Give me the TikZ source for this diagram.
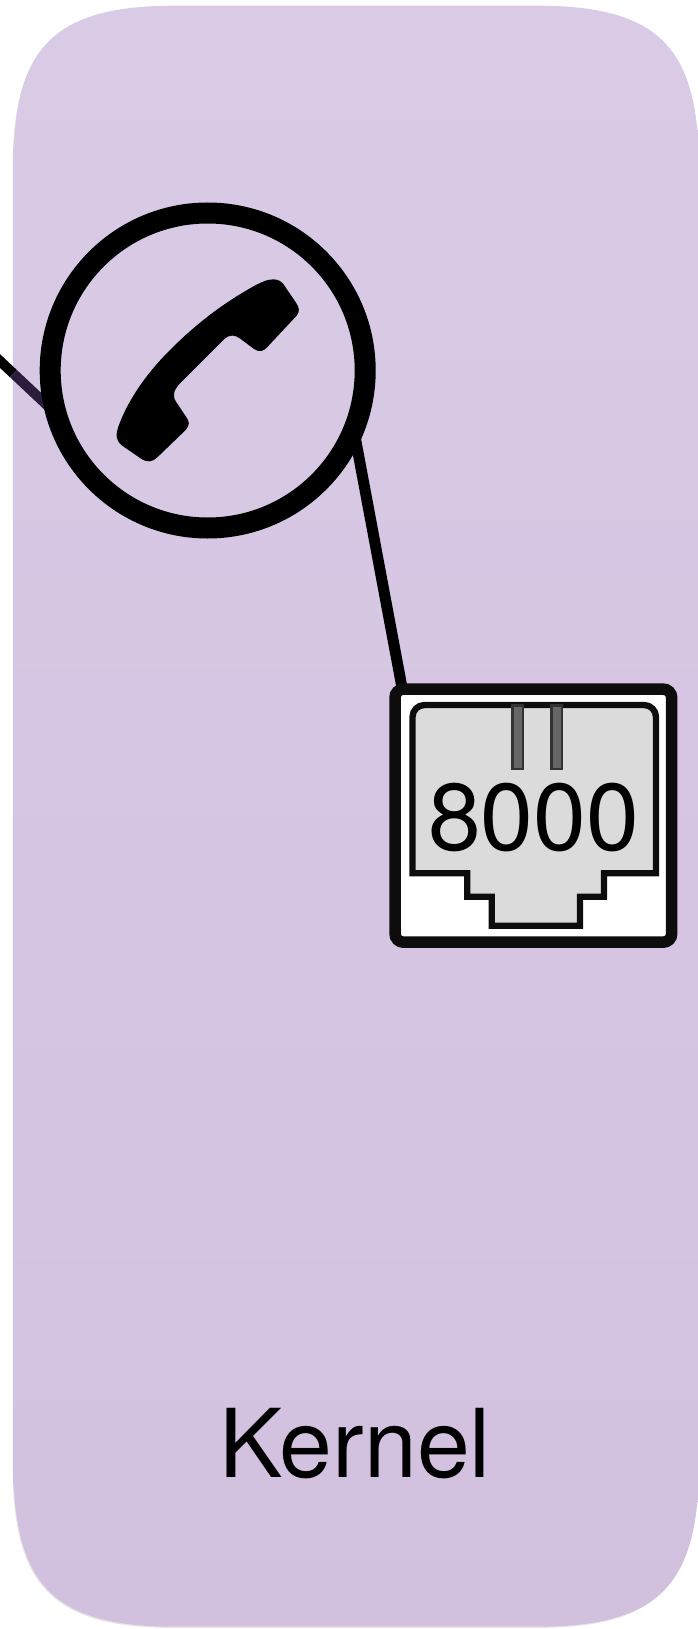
\documentclass[tikz,border=0pt]{standalone}
\usepackage{fontspec}
\setmainfont{TeX Gyre Heros}
\definecolor{linein}{HTML}{2C1C3C}
\definecolor{jackline}{HTML}{0D0D0D}
\definecolor{kerneltop}{RGB}{217,203,230}
\definecolor{kernelbottom}{RGB}{210,192,223}
\newcommand{\kernelshape}{(13.3,170) .. controls (13.3,50) and (50,5.7) .. (175,5.7) -- (537,5.7) .. controls (662,5.7) and (699,50) .. (699,170) -- (699,1462) .. controls (699,1582) and (662,1626.7) .. (537,1626.7) -- (175,1626.7) .. controls (50,1626.7) and (13.3,1582) .. (13.3,1462) -- cycle}
\pgfdeclarelayer{panel}
\pgfdeclarelayer{wires}
\pgfsetlayers{panel,wires,main}
\tikzset{
  wire/.style={line width=#1},
  big/.style={inner sep=0pt,outer sep=0pt,font=\fontsize{95}{95}\selectfont,text=black},
}
\begin{document}
\begin{tikzpicture}[x=1pt,y=-1pt]
\useasboundingbox (0,0) rectangle (698,1629);
\begin{pgfonlayer}{panel}
\clip (0,0) rectangle (698,1629);
\fill[black,opacity=.10] [shift={(-0.8,1.2)}] \kernelshape;
\shade[top color=kerneltop,bottom color=kernelbottom] \kernelshape;
\end{pgfonlayer}
\node[circle,draw=black,line width=21pt,minimum size=315pt,inner sep=0pt,outer sep=0pt] (phone) at (207.7,370.5) {};
\node[rectangle,rounded corners=8.5pt,draw=jackline,fill=white,line width=11.5pt,minimum width=276.7pt,minimum height=253.1pt,inner sep=0pt,outer sep=0pt] (jack) at (533.35,815.65) {};
\coordinate (lineedge) at (13.3,373.5);
\coordinate (linefree) at (-8,353.5);
\begin{pgfonlayer}{wires}
\clip (0,0) rectangle (698,1629);
\draw[wire=10pt,draw=black] (linefree) -- (lineedge);
\draw[wire=10pt,draw=linein] (lineedge) -- (phone.196);
\draw[wire=11pt,draw=black] (phone.-22) -- (jack.136.3);
\end{pgfonlayer}
% socket
\draw[draw=jackline,fill=black!14,line width=6.3pt,miter limit=10]
  (412.5,873.3) -- (412.5,717) arc[start angle=180,end angle=90,x radius=12,y radius=-12] -- (644,705) arc[start angle=90,end angle=0,x radius=12,y radius=-12] -- (656,873.3) -- (604,873.3) -- (604,896.7) -- (580,896.7) -- (580,925.7) -- (491.7,925.7) -- (491.7,896.7) -- (467.3,896.7) -- (467.3,873.3) -- cycle;
\draw[draw=black!80,fill=black!60,line width=2.6pt] (512.3,705.5) rectangle (523,769);
\draw[draw=black!80,fill=black!60,line width=2.6pt] (551.3,705.5) rectangle (562,769);
\node[big,anchor=base] (port) at (533.7,850) {8000};
% handset
\begin{scope}[shift={(0,180)},x=.33333pt,y=-.33333pt]
\fill[black] (820,298) .. controls (835,298) and (845,305) .. (852,315) -- (888,368) .. controls (898,382) and (900,395) .. (890,407) -- (803,500) .. controls (792,514) and (777,518) .. (762,507) -- (722,477) .. controls (705,464) and (690,462) .. (672,478) -- (545,605) .. controls (522,628) and (515,645) .. (528,665) -- (558,710) .. controls (569,725) and (570,735) .. (557,750) -- (472,832) .. controls (458,846) and (442,848) .. (426,838) -- (368,798) .. controls (350,785) and (345,770) .. (355,740) .. controls (380,670) and (430,590) .. (510,510) .. controls (600,420) and (680,365) .. (750,325) .. controls (780,308) and (800,298) .. (820,298) -- cycle;
\end{scope}
\node[big,anchor=base] (kernel) at (355,1477) {Kernel};
\end{tikzpicture}
\end{document}
